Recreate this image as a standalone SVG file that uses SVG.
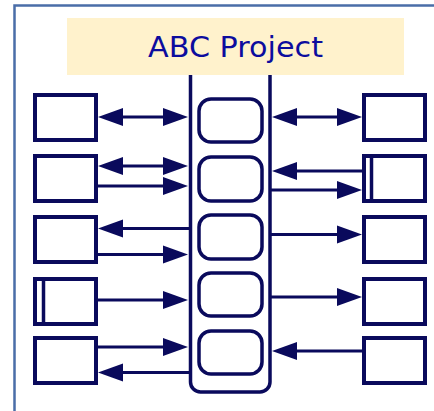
<svg xmlns="http://www.w3.org/2000/svg" width="434" height="411" viewBox="0 0 434 411">
  <style>
    .frame { fill: none; stroke: #4a6ea8; stroke-width: 2.5; }
    .box { fill: #ffffff; stroke: #0a0a5c; stroke-width: 4; }
    .bar { stroke: #0a0a5c; stroke-width: 3.5; }
    .hub { fill: none; stroke: #0a0a5c; stroke-width: 3.5; }
    .slot { fill: #ffffff; stroke: #0a0a5c; stroke-width: 3.5; }
    .link { fill: none; stroke: #0a0a5c; stroke-width: 3; }
    .one { marker-end: url(#head); }
    .two { marker-start: url(#head); marker-end: url(#head); }
    .title { font-family: "DejaVu Sans", "Noto Sans", sans-serif; font-size: 28px; fill: #0c0c9e; text-anchor: middle; }
  </style>
  <defs>
    <marker id="head" markerUnits="userSpaceOnUse" markerWidth="25" markerHeight="18"
            refX="15" refY="9" orient="auto-start-reverse" overflow="visible">
      <path d="M0,0 L25,9 L0,18 Z" fill="#0a0a5c"/>
    </marker>
  </defs>

  <rect width="434" height="411" fill="#ffffff"/>

  <!-- page frame -->
  <path class="frame" d="M14.5,411 V5.5 H434"/>

  <!-- title banner -->
  <g id="title">
    <rect x="67" y="18" width="337" height="57" fill="#fff2cc"/>
    <text class="title" x="235.5" y="57" textLength="175" lengthAdjust="spacingAndGlyphs">ABC Project</text>
  </g>

  <!-- central hub with its five slots -->
  <g id="hub">
    <path class="hub" d="M190.5,75 V382 A10,10 0 0 0 200.5,392 H260 A10,10 0 0 0 270,382 V75"/>
    <rect class="slot" x="199" y="99" width="63" height="43" rx="12"/>
    <rect class="slot" x="199" y="157" width="63" height="44" rx="12"/>
    <rect class="slot" x="199" y="215" width="63" height="44" rx="12"/>
    <rect class="slot" x="199" y="273" width="63" height="43" rx="12"/>
    <rect class="slot" x="199" y="331" width="63" height="43" rx="12"/>
  </g>

  <!-- left column -->
  <g id="left-1"><rect class="box" x="35" y="95" width="61" height="45"/></g>
  <g id="left-2"><rect class="box" x="35" y="156" width="61" height="45"/></g>
  <g id="left-3"><rect class="box" x="35" y="217" width="61" height="45"/></g>
  <g id="left-4">
    <rect class="box" x="35" y="279" width="61" height="45"/>
    <line class="bar" x1="43.5" y1="279" x2="43.5" y2="324"/>
  </g>
  <g id="left-5"><rect class="box" x="35" y="338" width="61" height="45"/></g>

  <!-- right column -->
  <g id="right-1"><rect class="box" x="364" y="95" width="61" height="45"/></g>
  <g id="right-2">
    <rect class="box" x="364" y="156" width="61" height="45"/>
    <line class="bar" x1="371.5" y1="156" x2="371.5" y2="201"/>
  </g>
  <g id="right-3"><rect class="box" x="364" y="217" width="61" height="45"/></g>
  <g id="right-4"><rect class="box" x="364" y="279" width="61" height="45"/></g>
  <g id="right-5"><rect class="box" x="364" y="338" width="61" height="45"/></g>

  <!-- connectors (line ends stop 10px short of the arrow tip) -->
  <g id="connectors">
    <!-- row 1 -->
    <line class="link two" x1="108" y1="117" x2="178" y2="117"/>
    <line class="link two" x1="282" y1="117" x2="352" y2="117"/>
    <!-- row 2 -->
    <line class="link two" x1="108" y1="166" x2="178" y2="166"/>
    <line class="link one" x1="96" y1="186" x2="178" y2="186"/>
    <line class="link one" x1="362" y1="171" x2="282" y2="171"/>
    <line class="link one" x1="270" y1="190" x2="352" y2="190"/>
    <!-- row 3 -->
    <line class="link one" x1="190" y1="228.5" x2="108" y2="228.5"/>
    <line class="link one" x1="96" y1="254.5" x2="178" y2="254.5"/>
    <line class="link one" x1="270" y1="234.5" x2="352" y2="234.5"/>
    <!-- row 4 -->
    <line class="link one" x1="96" y1="300" x2="178" y2="300"/>
    <line class="link one" x1="270" y1="297" x2="352" y2="297"/>
    <!-- row 5 -->
    <line class="link one" x1="96" y1="347" x2="178" y2="347"/>
    <line class="link one" x1="190" y1="372.5" x2="108" y2="372.5"/>
    <line class="link one" x1="362" y1="351" x2="282" y2="351"/>
  </g>
</svg>
